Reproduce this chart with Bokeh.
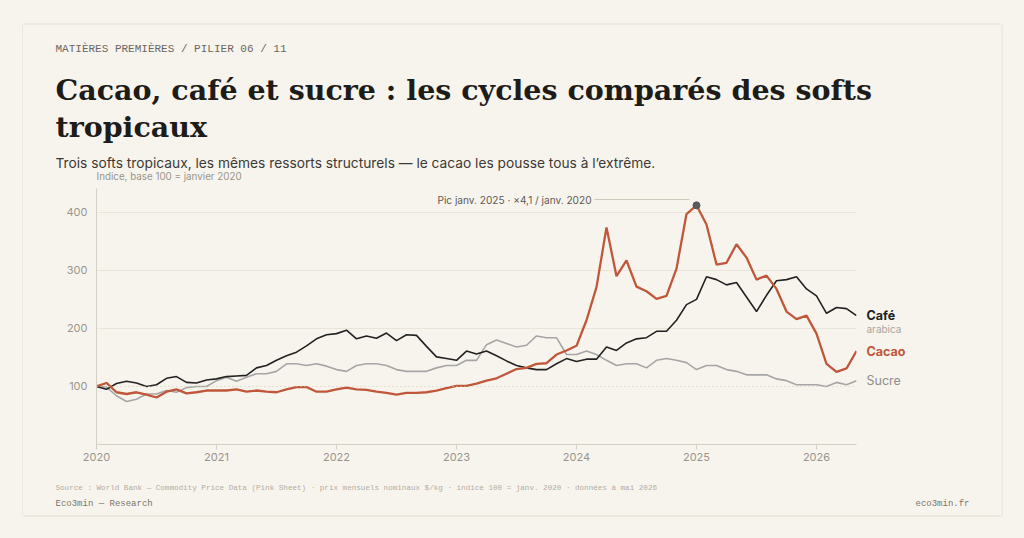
from bokeh.plotting import figure
from bokeh.models import Range1d, FixedTicker, Span
from bokeh.layouts import column, row
from bokeh.embed import file_html
from bokeh.resources import INLINE
from bokeh.core.properties import value

# ---- data (monthly index, base 100 = Jan 2020), Jan 2020 .. May 2026 ----
months = list(range(77))
cafe = [100, 95, 105, 109, 106, 100, 103, 114, 117, 107, 106, 111,
        113, 117, 118, 119, 132, 136, 145, 153, 159, 170, 182, 189,
        191, 197, 182, 187, 183, 192, 179, 189, 188, 169, 151, 148,
        145, 161, 156, 161, 153, 144, 136, 132, 129, 129, 139, 148,
        143, 147, 147, 168, 162, 175, 182, 184, 195, 195, 214, 241,
        250, 289, 284, 275, 279, 254, 229, 257, 282, 284, 289, 268,
        256, 226, 236, 234, 222]
sucre = [100, 99, 84, 74, 78, 87, 87, 93, 90, 98, 100, 100,
         110, 116, 109, 116, 122, 122, 126, 139, 139, 136, 139, 135,
         129, 126, 136, 139, 139, 136, 129, 126, 126, 126, 132, 136,
         136, 145, 145, 172, 180, 174, 168, 171, 187, 184, 184, 155,
         155, 161, 155, 145, 136, 139, 139, 132, 145, 148, 145, 141,
         129, 136, 136, 129, 126, 120, 120, 120, 113, 110, 103, 103,
         103, 100, 107, 103, 110]
cacao = [100, 106, 90, 87, 90, 86, 81, 91, 95, 88, 90, 93,
         93, 93, 95, 91, 93, 91, 90, 95, 99, 99, 91, 91,
         95, 98, 95, 94, 91, 89, 86, 89, 89, 90, 93, 97,
         101, 101, 105, 110, 114, 122, 130, 132, 139, 140, 155, 162,
         170, 214, 271, 374, 290, 317, 272, 264, 251, 256, 303, 397,
         412, 379, 310, 313, 345, 322, 284, 291, 268, 229, 216, 222,
         191, 139, 125, 131, 161]
year_ticks = [0, 12, 24, 36, 48, 60, 72]
year_labels = ["2020", "2021", "2022", "2023", "2024", "2025", "2026"]
y_ticks = [100, 200, 300, 400]
grid_ticks = [200, 300, 400]
peak_index = 60

BG = "#f7f4ee"
BORDER = "#e2dccd"
C_CAFE = "#222222"
C_CACAO = "#c0573a"
C_SUCRE = "#a6a6a6"
AX = "#d6d0c4"
SANS = "Inter"
MONO = "Liberation Mono"
SERIF = "DejaVu Serif"

W, H = 1024, 538
EDGE = 23                      # width of left / right card-edge strips
X0, X1 = EDGE, W - EDGE        # inner column spans page x 23 .. 1001
H_HEAD, H_MID = 185, 285
H_FOOT = H - H_HEAD - H_MID
FRAME_L, FRAME_R = 96, 856
W_MAIN = FRAME_R + 4 - X0
W_SIDE = X1 - (X0 + W_MAIN)
CARD_T, CARD_B = 23.5, 515.5
Y_MAX = 441
MB_TOP, MB_BOTTOM = 3, 26


def blank(width, height, xr, yr):
    f = figure(width=width, height=height, x_range=xr, y_range=yr,
               output_backend="svg", toolbar_location=None, title=None,
               x_axis_type=None, y_axis_type=None,
               min_border_left=0, min_border_right=0, min_border_top=0, min_border_bottom=0,
               background_fill_color=BG, border_fill_color=BG, outline_line_color=None)
    f.grid.visible = False
    return f


def txt(f, x, y, s, font, size, color, style="normal", align="left", baseline="middle"):
    f.text(x=[x], y=[y], text=[s], text_font=value(font), text_font_size=size,
           text_color=color, text_font_style=style, text_align=align,
           text_baseline=baseline)


def seg(f, x0, y0, x1, y1):
    f.segment(x0=[x0], y0=[y0], x1=[x1], y1=[y1], line_color=BORDER, line_width=1)


# ---------------- card edges (full-height strips) ----------------
left_edge = blank(EDGE, H, Range1d(0, EDGE), Range1d(H, 0))
seg(left_edge, EDGE - 0.5, CARD_T, EDGE - 0.5, CARD_B)
right_edge = blank(EDGE, H, Range1d(X1, W), Range1d(H, 0))
seg(right_edge, X1 + 0.5, CARD_T, X1 + 0.5, CARD_B)

# ---------------- header ----------------
head = blank(X1 - X0, H_HEAD, Range1d(X0, X1), Range1d(H_HEAD, 0))
seg(head, X0, CARD_T, X1, CARD_T)
txt(head, 55, 48, "MATIÈRES PREMIÈRES / PILIER 06 / 11", MONO, "11px", "#6b675f")
txt(head, 55, 89, "Cacao, café et sucre : les cycles comparés des softs", SERIF, "28.5px",
    "#1e1c19", style="bold", baseline="alphabetic")
txt(head, 55, 126, "tropicaux", SERIF, "28.5px", "#1e1c19", style="bold", baseline="alphabetic")
txt(head, 55, 162, "Trois softs tropicaux, les mêmes ressorts structurels — le cacao les pousse tous à l’extrême.",
    SANS, "13.75px", "#3d3a35")
txt(head, FRAME_L, 176, "Indice, base 100 = janvier 2020", SANS, "9.8px", "#9a958c")

# ---------------- main chart ----------------
yr = Range1d(0, Y_MAX)
p = figure(width=W_MAIN, height=H_MID, x_range=Range1d(0, months[-1]), y_range=yr,
           output_backend="svg", toolbar_location=None, title=None,
           min_border_left=FRAME_L - X0, min_border_right=4,
           min_border_top=MB_TOP, min_border_bottom=MB_BOTTOM,
           background_fill_color=BG, border_fill_color=BG, outline_line_color=None)

p.xaxis.ticker = FixedTicker(ticks=year_ticks)
p.xaxis.major_label_overrides = {t: l for t, l in zip(year_ticks, year_labels)}
p.xaxis.axis_line_color = AX
p.xaxis.major_tick_line_color = AX
p.xaxis.major_tick_out = 5
p.xaxis.major_tick_in = 0
p.xaxis.minor_tick_line_color = None
p.xaxis.major_label_text_font = SANS
p.xaxis.major_label_text_font_size = "11px"
p.xaxis.major_label_text_color = "#9a958c"
p.xaxis.major_label_standoff = 3

p.yaxis.ticker = FixedTicker(ticks=y_ticks)
p.yaxis.axis_line_color = AX
p.yaxis.major_tick_line_color = None
p.yaxis.major_tick_out = 0
p.yaxis.major_tick_in = 0
p.yaxis.minor_tick_line_color = None
p.yaxis.major_label_text_font = SANS
p.yaxis.major_label_text_font_size = "11px"
p.yaxis.major_label_text_color = "#9a958c"
p.yaxis.major_label_standoff = 9

p.xgrid.grid_line_color = None
p.ygrid.ticker = FixedTicker(ticks=grid_ticks)
p.ygrid.grid_line_color = "#ebe5d9"

p.add_layout(Span(location=100, dimension="width", line_color="#d3c9b6",
                  line_dash="1 3", line_width=1))

p.line(months, sucre, line_color=C_SUCRE, line_width=1.6)
p.line(months, cafe, line_color=C_CAFE, line_width=1.6)
p.line(months, cacao, line_color=C_CACAO, line_width=2.3)

px, pv = months[peak_index], cacao[peak_index]
p.segment(x0=[px - 10.2], y0=[pv + 10], x1=[px - 0.7], y1=[pv + 10],
          line_color="#cfc8ba", line_width=1)
p.scatter([px], [pv], size=7, color="#5a5a5a")
txt(p, px - 10.5, pv + 10, "Pic janv. 2025 · ×4,1 / janv. 2020", SANS, "10.1px", "#5f5b55",
    align="right")

# ---------------- end labels (frame aligned with the chart, shared y scale) ----------------
side = figure(width=W_SIDE, height=H_MID, x_range=Range1d(0, W_SIDE), y_range=yr,
              output_backend="svg", toolbar_location=None, title=None,
              x_axis_type=None, y_axis_type=None,
              min_border_left=0, min_border_right=0,
              min_border_top=MB_TOP, min_border_bottom=MB_BOTTOM,
              background_fill_color=BG, border_fill_color=BG, outline_line_color=None)
side.grid.visible = False
side.text(x=[6], y=[cafe[-1]], text=["Café"], text_font=value(SANS), text_font_size="12.5px",
          text_font_style="bold", text_color=C_CAFE, text_baseline="middle")
side.text(x=[6], y=[cafe[-1]], y_offset=13, text=["arabica"], text_font=value(SANS),
          text_font_size="10px", text_color="#aaa59d", text_baseline="middle")
side.text(x=[6], y=[cacao[-1]], text=["Cacao"], text_font=value(SANS), text_font_size="12.5px",
          text_font_style="bold", text_color=C_CACAO, text_baseline="middle")
side.text(x=[6], y=[sucre[-1]], text=["Sucre"], text_font=value(SANS), text_font_size="12.5px",
          text_color="#8e8e8e", text_baseline="middle")

# ---------------- footer ----------------
foot = blank(X1 - X0, H_FOOT, Range1d(X0, X1), Range1d(H_FOOT, 0))
bottom_y = CARD_B - (H_HEAD + H_MID)
seg(foot, X0, bottom_y, X1, bottom_y)
txt(foot, 55, 17, "Source : World Bank — Commodity Price Data (Pink Sheet) · prix mensuels nominaux $/kg · indice 100 = janv. 2020 · données à mai 2026",
    MONO, "7.6px", "#b3ada2")
txt(foot, 55, 33, "Eco3min — Research", MONO, "9px", "#7a756c")
txt(foot, 969, 33, "eco3min.fr", MONO, "9px", "#7a756c", align="right")

inner = column(head, row(p, side, spacing=0), foot, spacing=0)
layout = row(left_edge, inner, right_edge, spacing=0)

html = file_html(layout, INLINE, title="Cacao, café et sucre")
html = html.replace("<body>", '<body style="background:#f7f4ee;">')
open("out.html", "w").write(html)
